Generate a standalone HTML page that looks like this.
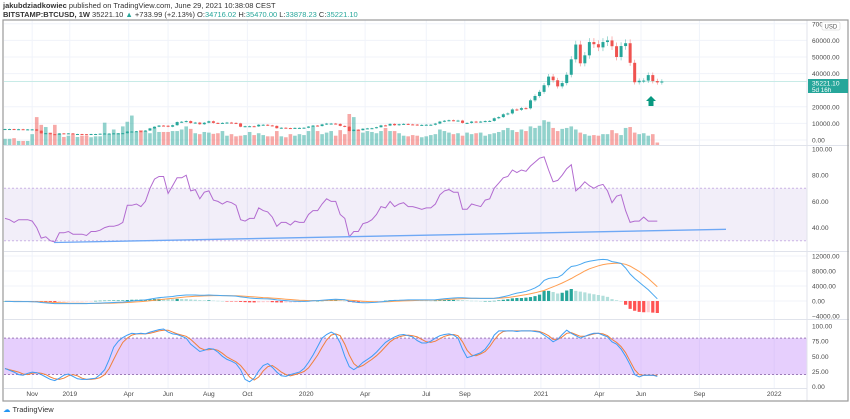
<!DOCTYPE html>
<html><head><meta charset="utf-8">
<style>
html,body{margin:0;padding:0;background:#fff;}
body{width:850px;height:419px;overflow:hidden;position:relative;font-family:"Liberation Sans",sans-serif;}
#hdr1{position:absolute;left:3px;top:1px;font-size:7.5px;color:#333;}
#hdr2{position:absolute;left:3px;top:10px;font-size:7.5px;color:#333;}
#hdr1 b,#hdr2 b{font-weight:bold;}
.g{color:#26a69a;}
#logo{position:absolute;left:3px;top:405px;font-size:7.5px;color:#333;}
svg{position:absolute;left:0;top:0;}
</style></head><body>
<div id="hdr1"><b>jakubdziadkowiec</b> published on TradingView.com, June 29, 2021 10:38:08 CEST</div>
<div id="hdr2"><b>BITSTAMP:BTCUSD, 1W</b> 35221.10 <span class="g">▲</span> +733.99 (+2.13%) O:<span class="g">34716.02</span> H:<span class="g">35470.00</span> L:<span class="g">33878.23</span> C:<span class="g">35221.10</span></div>
<div id="logo"><span style="color:#2196f3">☁</span> TradingView</div>
<svg id="chart" width="850" height="419"></svg>
<script>
const closes=[6600,6600,6300,6500,6400,6400,6400,5600,4000,4100,3500,3200,4000,3900,4000,
3600,3600,3500,3400,3600,3600,3800,3900,3900,4000,4000,4100,5100,5100,5300,5200,5700,7000,8000,8700,8600,8000,8900,10800,11000,11400,10200,10500,9500,10400,11300,10300,10100,10300,10500,10300,10000,8000,8300,8300,8200,9200,9200,8800,8500,7100,7400,7200,7100,7300,7300,7400,
8100,8700,8400,9400,9900,9900,9700,8500,8000,5400,6200,5900,6800,7000,7100,7700,8800,8700,9700,8900,9500,9700,9400,9300,9000,9100,9200,9200,9900,11100,11600,11900,11700,11700,10300,10300,11100,10800,11100,11400,11500,13100,13800,15500,16000,18400,18200,19200,19100,23900,26500,29000,
33000,38200,36000,32300,34300,39300,48600,57500,46200,51000,59000,57700,55800,59000,60000,56500,50000,56600,58300,46500,34800,35700,35800,39100,35500,34716,35221];
const volumes=[20,20,22,13,13,13,35,90,65,58,40,65,36,26,30,
36,26,30,30,25,28,28,72,35,50,38,60,75,95,42,48,45,38,56,42,42,42,45,45,50,60,52,38,35,42,40,36,38,45,30,35,28,30,32,42,32,38,32,28,28,45,28,25,35,30,35,32,
45,60,45,35,40,45,30,48,35,100,90,50,40,45,42,38,45,55,45,45,38,30,28,32,30,25,28,32,35,50,45,40,35,38,30,40,35,38,40,30,35,38,42,48,55,48,42,50,45,60,55,62,
80,75,55,45,52,55,60,50,40,35,30,32,30,35,35,48,38,32,55,58,40,35,38,30,35,8];
const rsi=[47,46,44,46,46,46,45,40,32,33,30,29,36,36,37,35,35,35,34,37,37,38,40,41,41,42,44,57,57,58,56,60,70,77,79,79,66,72,78,78,80,68,69,62,67,68,61,60,58,60,59,57,46,45,47,47,55,53,52,48,41,44,44,42,45,44,44,50,53,53,58,62,60,60,50,47,33,37,37,43,44,46,50,56,55,60,56,58,59,56,56,55,54,55,55,58,65,68,69,67,67,54,54,58,57,56,61,62,70,74,78,79,84,82,84,83,87,90,93,94,84,75,76,80,85,88,68,71,75,72,70,72,73,68,59,64,65,53,44,45,45,48,45,45,45];
const macd=[-100,-100,-150,-150,-150,-150,-200,-250,-400,-500,-600,-700,-700,-700,-700,
-700,-700,-700,-700,-650,-600,-550,-500,-450,-400,-350,-300,-150,0,100,200,
300,500,700,900,1000,1100,1200,1400,1500,1600,1600,1600,1550,1550,
1600,1550,1500,1450,1400,1350,1300,1100,950,800,700,650,600,550,450,300,200,100,0,-50,-100,-100,
-50,50,100,200,300,400,450,400,350,-50,-250,-400,-450,-450,-400,-350,-250,-100,50,150,200,250,300,300,300,300,300,300,350,450,600,700,800,850,850,800,750,750,700,700,700,750,900,1150,1400,1800,2100,2300,2600,3000,3500,4200,
5500,6000,6200,6300,7000,8200,9200,9400,9800,10300,10600,10800,11000,11100,11000,10500,10300,10000,8800,7200,6000,5000,4000,3000,1800,600];
const signal=[-100,-100,-110,-120,-130,-140,-150,-170,-210,-260,-330,-400,-460,-510,-550,
-580,-600,-620,-630,-640,-640,-630,-610,-580,-550,-510,-470,-410,-330,-240,-150,
-60,50,180,320,450,580,700,830,960,1080,1180,1260,1320,1370,
1410,1440,1450,1450,1440,1420,1400,1340,1260,1170,1080,1000,920,850,770,680,590,490,390,300,220,160,
110,100,100,120,150,200,250,280,290,220,130,30,-60,-140,-190,-220,-230,-200,-150,-90,-30,30,80,120,160,190,210,230,250,290,350,420,500,570,630,660,680,690,690,690,690,700,740,820,930,1100,1300,1500,1700,1950,2200,2500,
2800,3300,3800,4300,4800,5400,6000,6700,7300,8000,8600,9000,9400,9700,9900,10000,10100,10000,9800,9300,8600,7900,7000,6000,4900,3800];
const stochK=[30,27,24,20,19,22,24,23,20,16,12,10,14,19,21,17,13,12,12,13,14,20,28,45,65,75,81,85,88,87,88,87,90,92,94,95,90,87,86,83,80,70,64,58,60,63,62,57,50,45,42,38,28,12,8,14,26,35,38,32,24,18,17,20,22,24,30,40,52,66,80,86,90,86,72,50,33,28,33,40,45,50,57,65,73,78,82,85,86,84,82,76,72,72,75,80,84,86,87,85,80,62,48,50,53,56,62,72,85,92,92,92,92,91,92,92,92,91,90,85,80,74,78,86,93,88,84,80,83,86,88,88,85,82,74,70,62,50,36,20,16,19,19,19,17];
const stochD=[30,28,26,24,21,20,22,23,22,20,16,13,12,14,18,20,18,14,12,12,13,15,20,30,45,60,73,80,85,87,87,87,88,90,92,93,93,90,87,85,83,78,71,64,61,61,62,60,55,49,45,41,35,26,16,11,16,26,33,35,30,24,20,18,20,22,25,31,41,52,65,77,85,87,84,70,52,38,32,35,40,45,51,58,66,74,79,82,84,85,84,82,78,74,73,75,79,83,85,86,84,74,60,52,51,54,58,66,77,86,91,92,92,92,92,92,92,92,91,88,84,78,78,82,88,89,86,83,83,85,87,88,87,84,78,73,66,56,42,28,20,19,19,19,19];
const priceTicks=[70000,60000,50000,40000,20000,10000,0];
const rsiTicks=[100,80,60,40];
const macdTicks=[12000,8000,4000,0,-4000];
const stochTicks=[100,75,50,25,0];
const monthLabels=["Nov","2019","Apr","Jun","Aug","Oct","2020","Apr","Jul","Sep","2021","Apr","Jun","Sep","2022"];
const monthWeeks=[6,14.3,27.3,36,45,53.5,66.5,79.5,93,101.5,118.3,131.2,140.4,153.3,169.8];
const lastPrice="35221.10", countdown="5d 16h";

const NS="http://www.w3.org/2000/svg";
const svg=document.getElementById('chart');
const PL=4,PR=807;
function xAt(i){return 5+i*4.53;}
function yPrice(v){return 140-v*0.00166;}
function yVol(v){return 145-v*0.31;}
function yRsi(v){return 149+(100-v)*1.31;}
function yMacd(v){return 301-v*0.00375;}
function yStoch(v){return 386.7-v*0.607;}
function mk(tag,attrs,parent){const e=document.createElementNS(NS,tag);for(const k in attrs)e.setAttribute(k,attrs[k]);(parent||svg).appendChild(e);return e;}
function grp(name){const g=mk('g',{});return g;}

const grid=grp('grid');
monthWeeks.forEach(w=>{const x=xAt(w);mk('line',{x1:x,x2:x,y1:20,y2:388,stroke:'#f0f3fa','stroke-width':1},grid);});
priceTicks.forEach(v=>mk('line',{x1:PL,x2:PR,y1:yPrice(v),y2:yPrice(v),stroke:'#f0f3fa'},grid));
[12000,8000,4000,0].forEach(v=>mk('line',{x1:PL,x2:PR,y1:yMacd(v),y2:yMacd(v),stroke:'#f0f3fa'},grid));

const rb=mk('rect',{x:PL,y:yRsi(70),width:PR-PL,height:yRsi(30)-yRsi(70),fill:'rgba(126,87,194,0.1)'});


[70,30].forEach(v=>mk('line',{x1:PL,x2:PR,y1:yRsi(v),y2:yRsi(v),stroke:'#c9b3e6','stroke-dasharray':'2,2'}));
const sb=mk('rect',{x:PL,y:yStoch(80),width:PR-PL,height:yStoch(20)-yStoch(80),fill:'rgba(190,130,250,0.38)'});


[80,20].forEach(v=>mk('line',{x1:PL,x2:PR,y1:yStoch(v),y2:yStoch(v),stroke:'#9c7bb8','stroke-dasharray':'2,2'}));

const vg=grp('volume-bars');
volumes.forEach((v,i)=>{const up=i===0||closes[i]>=closes[i-1];
 const r=mk('rect',{x:xAt(i)-1.8,y:yVol(v),width:3.6,height:145-yVol(v),fill:up?'rgba(38,166,154,0.5)':'rgba(239,83,80,0.5)'},vg);
 
 });

mk('line',{x1:PL,x2:PR,y1:yPrice(closes[closes.length-1]),y2:yPrice(closes[closes.length-1]),stroke:'#c8ebe7','stroke-width':1});

const cg=grp('candles');
closes.forEach((c,i)=>{const o=i===0?c:closes[i-1];const up=c>=o;const col=up?'#26a69a':'#ef5350';
 const hi=Math.max(o,c)*1.04,lo=Math.min(o,c)*0.96;const x=xAt(i);
 mk('line',{x1:x,x2:x,y1:yPrice(hi),y2:yPrice(lo),stroke:col,'stroke-width':0.7,opacity:0.6},cg);
 const top=yPrice(Math.max(o,c)),h=Math.max(1,yPrice(Math.min(o,c))-top);
 const r=mk('rect',{x:x-1.5,y:top,width:3,height:h,fill:col},cg);
 
 });
const ar=mk('path',{d:'M651,96 L656,101 L653.5,101 L653.5,106 L648.5,106 L648.5,101 L646,101 Z',fill:'#089981'});



function line(arr,yf,col,name,w){let d='';arr.forEach((v,i)=>{d+=(i?'L':'M')+xAt(i).toFixed(1)+','+yf(v).toFixed(1);});
 const p=mk('path',{d:d,fill:'none',stroke:col,'stroke-width':w||1});
 
 }
line(rsi,yRsi,'#b26bd0','rsi-line',1);
const tl=mk('line',{x1:54,y1:242.5,x2:726,y2:229.3,stroke:'#6fa8f5','stroke-width':1.3});



const hg=grp('macd-histogram');
macd.forEach((m,i)=>{const h=m-signal[i];const ph=i?macd[i-1]-signal[i-1]:h;
 let col=h>=0?(h>=ph?'#26a69a':'#b2dfdb'):(h<ph?'#ff5252':'#ffcdd2');
 const y0=yMacd(0),y1=yMacd(h);
 const r=mk('rect',{x:xAt(i)-1.6,y:Math.min(y0,y1),width:3.2,height:Math.max(0.5,Math.abs(y1-y0)),fill:col},hg);
 
 });
line(signal,yMacd,'#ff9e50','macd-signal-line',1);
line(macd,yMacd,'#4aa8f0','macd-line',1);

line(stochD,yStoch,'#f0803c','stoch-d-line',1);
line(stochK,yStoch,'#3d9df5','stoch-k-line',1);

[145.5,251.5,319.5].forEach(y=>mk('line',{x1:PL,x2:849,y1:y,y2:y,stroke:'#e0e3eb'}));
mk('line',{x1:PR,x2:PR,y1:20,y2:401,stroke:'#e0e3eb'});
mk('line',{x1:PL,x2:PR,y1:388.5,y2:388.5,stroke:'#e0e3eb'});
const fr=mk('rect',{x:3,y:20,width:845,height:381,fill:'none',stroke:'#9a9a9a','stroke-width':1.2});



function tick(txt,y,name){const t=mk('text',{x:812,y:y+2.5,'font-size':6.6,fill:'#4a4a4a','font-family':'Liberation Sans, sans-serif'});t.textContent=txt;
 
 }
priceTicks.forEach(v=>tick(v.toFixed(2),yPrice(v),'price-tick'));
rsiTicks.forEach(v=>tick(v.toFixed(2),yRsi(v),'rsi-tick'));
macdTicks.forEach(v=>tick((v<0?'−':'')+Math.abs(v).toFixed(2),yMacd(v),'macd-tick'));
stochTicks.forEach(v=>tick(v.toFixed(2),yStoch(v),'stoch-tick'));
const ub=mk('rect',{x:822,y:22,width:18,height:8,fill:'#fff',stroke:'#ccc','stroke-width':0.5,rx:1});


const ut=mk('text',{x:824.5,y:28.3,'font-size':6,fill:'#555'});ut.textContent='USD';
const lb=mk('rect',{x:808,y:79,width:40,height:14,fill:'#26a69a'});


const lt=mk('text',{x:812,y:85.5,'font-size':6.6,fill:'#fff'});lt.textContent=lastPrice;
const ct=mk('text',{x:812,y:92,'font-size':6.3,fill:'#fff'});ct.textContent=countdown;

monthLabels.forEach((m,i)=>{const t=mk('text',{x:xAt(monthWeeks[i]),y:396,'font-size':6.6,fill:'#4a4a4a','text-anchor':'middle'});t.textContent=m;
 
 });
</script>
</body></html>
